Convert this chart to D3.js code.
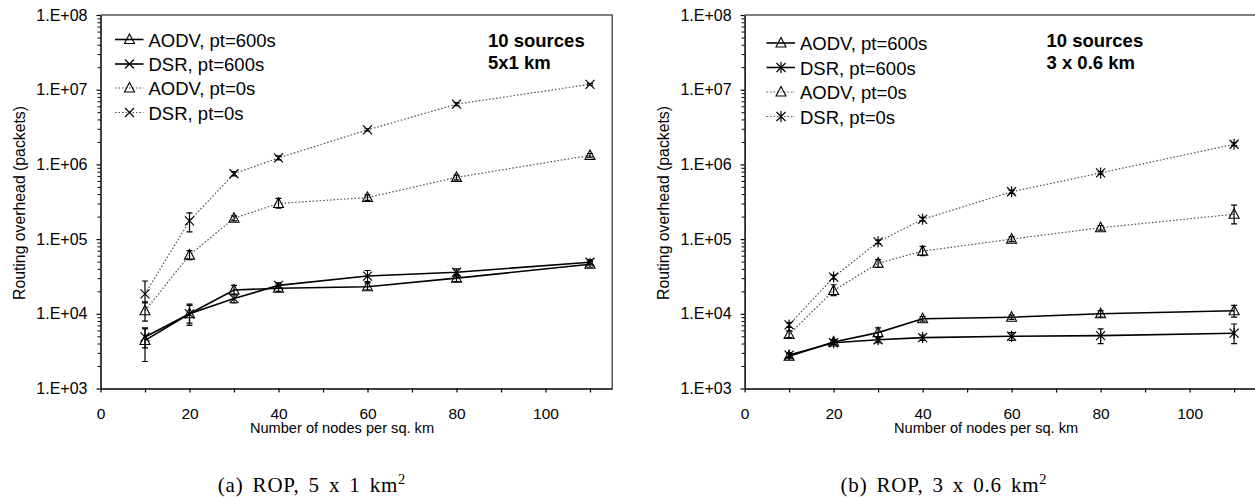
<!DOCTYPE html>
<html>
<head>
<meta charset="utf-8">
<script src="https://cdn.jsdelivr.net/npm/d3@7"></script>
<style>
	body { margin: 0; background: #fff; }
	svg { display: block; font-family: "Liberation Sans", Arial, sans-serif; }
	.caption { font-family: "Liberation Serif", "Times New Roman", serif; }
</style>
</head>
<body>
<div id="chart"></div>
<script>
// x values shared by both panels
const nodes = [10, 20, 30, 40, 60, 80, 110];
const seriesNames = ['AODV, pt=600s', 'DSR, pt=600s', 'AODV, pt=0s', 'DSR, pt=0s'];
const xTicks = [0, 10, 20, 30, 40, 50, 60, 70, 80, 90, 100, 110];
const yTicks = [1e3, 1e4, 1e5, 1e6, 1e7, 1e8];

// (a) 5 x 1 km
const wideAodv600 = [4.4e3, 1.0e4, 2.08e4, 2.2e4, 2.3e4, 3.0e4, 4.6e4];
const wideAodv600Err = [[2.3e3, 6.3e3], [7.0e3, 1.35e4], [1.8e4, 2.4e4], [2.0e4, 2.5e4], [2.1e4, 2.6e4], [2.7e4, 3.3e4], [4.2e4, 5.0e4]];
const wideDsr600 = [4.9e3, 1.0e4, 1.6e4, 2.4e4, 3.2e4, 3.6e4, 4.9e4];
const wideDsr600Err = [[3.5e3, 6.5e3], [7.5e3, 1.3e4], [1.4e4, 1.8e4], [2.2e4, 2.6e4], [2.7e4, 3.8e4], [3.2e4, 4.0e4], [4.5e4, 5.3e4]];
const wideAodv0 = [1.1e4, 6.1e4, 1.9e5, 3.0e5, 3.6e5, 6.7e5, 1.32e6];
const wideAodv0Err = [[8.0e3, 1.45e4], [5.3e4, 7.0e4], [1.75e5, 2.05e5], [2.6e5, 3.5e5], [3.3e5, 3.9e5], [6.2e5, 7.2e5], [1.25e6, 1.4e6]];
const wideDsr0 = [1.85e4, 1.75e5, 7.5e5, 1.22e6, 2.9e6, 6.4e6, 1.18e7];
const wideDsr0Err = [[1.4e4, 2.75e4], [1.25e5, 2.25e5], [7.0e5, 8.0e5], [1.15e6, 1.3e6], [2.8e6, 3.0e6], [6.1e6, 6.7e6], [1.15e7, 1.21e7]];

// (b) 3 x 0.6 km
const smallAodv600 = [2.7e3, 4.2e3, 5.6e3, 8.6e3, 9.0e3, 1.0e4, 1.1e4];
const smallAodv600Err = [[2.5e3, 2.95e3], [3.9e3, 4.5e3], [4.8e3, 6.5e3], [8.0e3, 9.2e3], [8.4e3, 9.6e3], [9.0e3, 1.1e4], [9.0e3, 1.3e4]];
const smallDsr600 = [2.8e3, 4.1e3, 4.5e3, 4.8e3, 5.0e3, 5.1e3, 5.5e3];
const smallDsr600Err = [[2.6e3, 3.0e3], [3.9e3, 4.4e3], [4.1e3, 4.9e3], [4.4e3, 5.2e3], [4.4e3, 5.6e3], [4.0e3, 6.3e3], [4.0e3, 7.3e3]];
const smallAodv0 = [5.3e3, 2.05e4, 4.75e4, 6.9e4, 1.0e5, 1.42e5, 2.15e5];
const smallAodv0Err = [[4.8e3, 5.9e3], [1.75e4, 2.45e4], [4.2e4, 5.3e4], [6.0e4, 8.0e4], [9.3e4, 1.08e5], [1.32e5, 1.52e5], [1.6e5, 2.85e5]];
const smallDsr0 = [7.1e3, 3.1e4, 9.2e4, 1.84e5, 4.3e5, 7.7e5, 1.86e6];
const smallDsr0Err = [[6.6e3, 7.6e3], [2.9e4, 3.3e4], [8.7e4, 9.7e4], [1.75e5, 1.95e5], [4.1e5, 4.5e5], [7.4e5, 8.0e5], [1.78e6, 1.95e6]];

const width = 1255, height = 497;

const panels = [
	{
		left: 100.5, top: 15, note: ['10 sources', '5x1 km'], noteX: 488,
		legendX: 115, legendY: [39.5, 64, 88, 112.5],
		caption: '(a) ROP, 5 x 1 km', captionX: 312,
		series: [
			{values: wideAodv600, err: wideAodv600Err, marker: 'tri', dotted: false},
			{values: wideDsr600, err: wideDsr600Err, marker: 'cross', dotted: false},
			{values: wideAodv0, err: wideAodv0Err, marker: 'tri', dotted: true},
			{values: wideDsr0, err: wideDsr0Err, marker: 'cross', dotted: true}
		]
	},
	{
		left: 744.6, top: 15, note: ['10 sources', '3 x 0.6 km'], noteX: 1046.5,
		legendX: 766.5, legendY: [43, 67.5, 92, 116.5],
		caption: '(b) ROP, 3 x 0.6 km', captionX: 944,
		series: [
			{values: smallAodv600, err: smallAodv600Err, marker: 'tri', dotted: false},
			{values: smallDsr600, err: smallDsr600Err, marker: 'star', dotted: false},
			{values: smallAodv0, err: smallAodv0Err, marker: 'tri', dotted: true},
			{values: smallDsr0, err: smallDsr0Err, marker: 'star', dotted: true}
		]
	}
];

const svg = d3.select('#chart')
	.append('svg')
	.attr('width', width)
	.attr('height', height);

svg.append('rect')
	.attr('width', width)
	.attr('height', height)
	.attr('fill', '#fff');

const _drawMarker = (g, type, cx, cy) =>{
	if (type === 'tri') {
		g.append('path')
			.attr('d', `M${cx},${cy - 5.5}L${cx + 5},${cy + 4}L${cx - 5},${cy + 4}Z`)
			.attr('fill', 'none')
			.attr('stroke', '#000')
			.attr('stroke-width', 1.1);
		return;
	}
	const r = 4.5;
	let d = `M${cx - r},${cy - r}L${cx + r},${cy + r}M${cx - r},${cy + r}L${cx + r},${cy - r}`;
	if (type === 'star') d += `M${cx},${cy - 5.5}L${cx},${cy + 5.5}`;
	g.append('path')
		.attr('d', d)
		.attr('fill', 'none')
		.attr('stroke', '#000')
		.attr('stroke-width', 1.2);
};

const _lineStyle = (sel, dotted) =>{
	sel.attr('fill', 'none')
		.attr('stroke', dotted ? '#555' : '#000')
		.attr('stroke-width', dotted ? 1.2 : 1.6)
		.attr('stroke-dasharray', dotted ? '1.6,1.9' : null);
};

const _drawPanel = (p) =>{
	const xScale = d3.scaleLinear()
		.domain([0, 115])
		.range([p.left, p.left + 115 * 4.45]);
	const yScale = d3.scaleLog()
		.domain([1e3, 1e8])
		.range([388.5, p.top]);

	const g = svg.append('g');

	// frame: top and right edges
	g.append('path')
		.attr('d', `M${xScale(0)},${yScale(1e8)}H${xScale(115)}V${yScale(1e3)}`)
		.attr('fill', 'none')
		.attr('stroke', '#555')
		.attr('stroke-width', 1.5);

	// minor y ticks
	const minor = [];
	for (let e = 3; e < 8; e++) for (let m = 2; m < 10; m++) minor.push(m * Math.pow(10, e));
	g.append('g')
		.attr('transform', `translate(${xScale(0)},0)`)
		.call(d3.axisLeft(yScale).tickValues(minor).tickSize(3).tickFormat(''))
		.call(a => a.select('.domain').remove())
		.call(a => a.selectAll('line').attr('stroke-width', 1));

	const yAxis = g.append('g')
		.attr('transform', `translate(${xScale(0)},0)`)
		.call(d3.axisLeft(yScale)
			.tickValues(yTicks)
			.tickSize(4)
			.tickSizeOuter(0)
			.tickPadding(9)
			.tickFormat(d => '1.E+0' + Math.round(Math.log10(d))));
	yAxis.select('.domain').attr('stroke-width', 1.5);
	yAxis.selectAll('line').attr('stroke-width', 1.2);
	yAxis.selectAll('text')
		.attr('font-size', 16)
		.attr('fill', '#000');

	const xAxis = g.append('g')
		.attr('transform', `translate(0,${yScale(1e3)})`)
		.call(d3.axisBottom(xScale)
			.tickValues(xTicks)
			.tickSize(4)
			.tickSizeOuter(0)
			.tickPadding(15)
			.tickFormat(d => d % 20 === 0 && d <= 100 ? d : ''));
	xAxis.select('.domain').attr('stroke-width', 1.5);
	xAxis.selectAll('line').attr('stroke-width', 1.2);
	xAxis.selectAll('text')
		.attr('font-size', 15.5)
		.attr('fill', '#000');

	g.append('text')
		.attr('x', p.left + 241.5)
		.attr('y', 432.5)
		.attr('text-anchor', 'middle')
		.attr('font-size', 14.6)
		.text('Number of nodes per sq. km');

	g.append('text')
		.attr('transform', `translate(${p.left - 75.5},203) rotate(-90)`)
		.attr('text-anchor', 'middle')
		.attr('font-size', 15.8)
		.text('Routing overhead (packets)');

	// series: lines, error bars, markers
	p.series.forEach(s =>{
		const pts = nodes.map((n, i) => ({x: n, y: s.values[i], lo: s.err[i][0], hi: s.err[i][1]}));
		const line = d3.line()
			.x(d => xScale(d.x))
			.y(d => yScale(d.y));
		g.append('path')
			.datum(pts)
			.attr('d', line)
			.call(_lineStyle, s.dotted);

		const eb = g.append('g')
			.attr('stroke', '#000')
			.attr('stroke-width', 1.2);
		pts.forEach(d =>{
			const cx = xScale(d.x);
			eb.append('path')
				.attr('fill', 'none')
				.attr('d', `M${cx},${yScale(d.lo)}V${yScale(d.hi)}M${cx - 3},${yScale(d.lo)}h6M${cx - 3},${yScale(d.hi)}h6`);
		});

		const mk = g.append('g');
		pts.forEach(d => _drawMarker(mk, s.marker, xScale(d.x), yScale(d.y)));
	});

	// legend
	const legend = g.append('g');
	p.series.forEach((s, i) =>{
		const ly = p.legendY[i];
		legend.append('path')
			.attr('d', `M${p.legendX},${ly}h28.5`)
			.call(_lineStyle, s.dotted);
		_drawMarker(legend, s.marker, p.legendX + 14.5, ly);
		legend.append('text')
			.attr('x', p.legendX + 33.5)
			.attr('y', ly + 7)
			.attr('font-size', 18.5)
			.text(seriesNames[i]);
	});

	g.append('g')
		.selectAll('text')
		.data(p.note)
		.join('text')
		.attr('x', p.noteX)
		.attr('y', (d, i) => 46.5 + i * 22.5)
		.attr('font-size', 18.5)
		.attr('font-weight', 'bold')
		.text(d => d);

	const cap = svg.append('text')
		.attr('class', 'caption')
		.attr('x', p.captionX)
		.attr('y', 491.5)
		.attr('text-anchor', 'middle')
		.attr('font-size', 21)
		.attr('letter-spacing', 0.8)
		.attr('word-spacing', 3)
		.text(p.caption);
	cap.append('tspan')
		.attr('dy', -8)
		.attr('font-size', 14.5)
		.text('2');
};

panels.forEach(_drawPanel);
</script>
</body>
</html>
